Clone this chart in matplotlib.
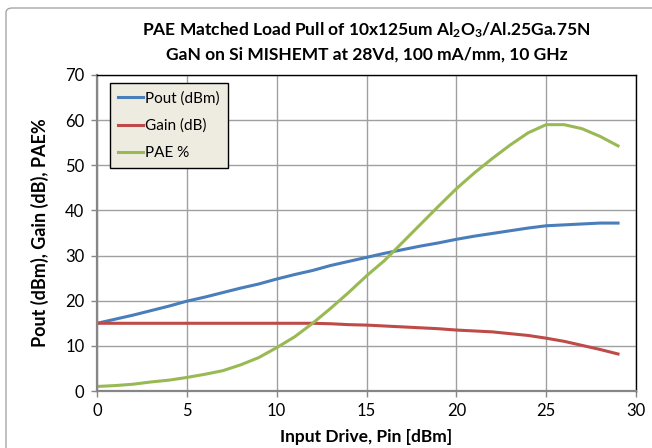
import matplotlib
matplotlib.use('Agg')
from matplotlib import pyplot as plt
from matplotlib.patches import FancyBboxPatch

plt.rcParams['font.family'] = ['Lato', 'DejaVu Sans']
plt.rcParams['mathtext.default'] = 'regular'

# Данные
pin = list(range(30))
pout = [15.0, 15.9, 16.8, 17.8, 18.8, 19.9, 20.8, 21.8, 22.8, 23.7,
        24.8, 25.8, 26.7, 27.8, 28.7, 29.6, 30.5, 31.3, 32.1, 32.8,
        33.6, 34.3, 34.9, 35.5, 36.1, 36.6, 36.8, 37.0, 37.2, 37.2]
gain = [15.0, 15.0, 15.0, 15.0, 15.0, 15.0, 15.0, 15.0, 15.0, 15.0,
        15.0, 15.0, 15.0, 14.9, 14.7, 14.6, 14.4, 14.2, 14.0, 13.8,
        13.5, 13.3, 13.1, 12.7, 12.3, 11.7, 11.0, 10.1, 9.2, 8.2]
pae = [1.0, 1.2, 1.5, 2.0, 2.4, 3.0, 3.7, 4.5, 5.8, 7.4,
       9.6, 12.0, 15.0, 18.3, 21.8, 25.5, 28.9, 32.9, 36.9, 40.9,
       44.8, 48.3, 51.5, 54.5, 57.2, 59.0, 59.0, 58.1, 56.4, 54.3]
series_names = ['Pout (dBm)', 'Gain (dB)', 'PAE %']
x_ticks = [0, 5, 10, 15, 20, 25, 30]
y_ticks = [0, 10, 20, 30, 40, 50, 60, 70]

fig = plt.figure(figsize=(6.52, 4.48), dpi=100)
ax = fig.add_axes([97 / 652, 1 - 391 / 448, 539 / 652, 316 / 448])

# Рамка вокруг всей диаграммы
frame = FancyBboxPatch((6 / 652, -0.05), 1.2, 1 - 8 / 448 + 0.05,
                       boxstyle='round,pad=0,rounding_size=0.01',
                       transform=fig.transFigure, fill=False,
                       ec='#a6a6a6', lw=1.0, zorder=0)
fig.patches.append(frame)

ax.plot(pin, pout, color='#4a7ebb', lw=2.2, label=series_names[0])
ax.plot(pin, gain, color='#be4b48', lw=2.2, label=series_names[1])
ax.plot(pin, pae, color='#98b954', lw=2.2, label=series_names[2])

ax.set_xlim(0, 30)
ax.set_ylim(0, 70)
ax.set_xticks(x_ticks)
ax.set_yticks(y_ticks)
ax.grid(True, color='#a0a0a0', lw=1.0)
ax.set_axisbelow(True)
ax.tick_params(axis='both', labelsize=12, color='#868686', length=4,
               width=1.0, pad=5)

for side in ('top', 'right'):
    ax.spines[side].set_color('black')
    ax.spines[side].set_linewidth(1.0)
for side in ('left', 'bottom'):
    ax.spines[side].set_color('#868686')
    ax.spines[side].set_linewidth(1.6)

ax.set_xlabel('Input Drive, Pin [dBm]', fontsize=12.5, fontweight='bold',
              labelpad=7)
ax.set_ylabel('Pout (dBm), Gain (dB), PAE%', fontsize=13,
              fontweight='bold', labelpad=12)

fig.text(0.5 * (97 + 636) / 652, 1 - 30 / 448,
         'PAE Matched Load Pull of 10x125um Al$_2$O$_3$/Al.25Ga.75N',
         ha='center', va='center', fontsize=12.5, fontweight='bold')
fig.text(0.5 * (97 + 636) / 652, 1 - 55 / 448,
         'GaN on Si MISHEMT at 28Vd, 100 mA/mm, 10 GHz',
         ha='center', va='center', fontsize=12.5, fontweight='bold')

leg = ax.legend(loc='upper left', bbox_to_anchor=(0.024, 0.975),
                fontsize=11, frameon=True, fancybox=False,
                handlelength=1.6, handletextpad=0.15, labelspacing=0.85,
                borderpad=0.55, borderaxespad=0)
leg.get_frame().set_facecolor('#eeece1')
leg.get_frame().set_edgecolor('black')
leg.get_frame().set_linewidth(1.0)
leg.get_frame().set_alpha(1.0)

fig.savefig('out.png', dpi=100)
